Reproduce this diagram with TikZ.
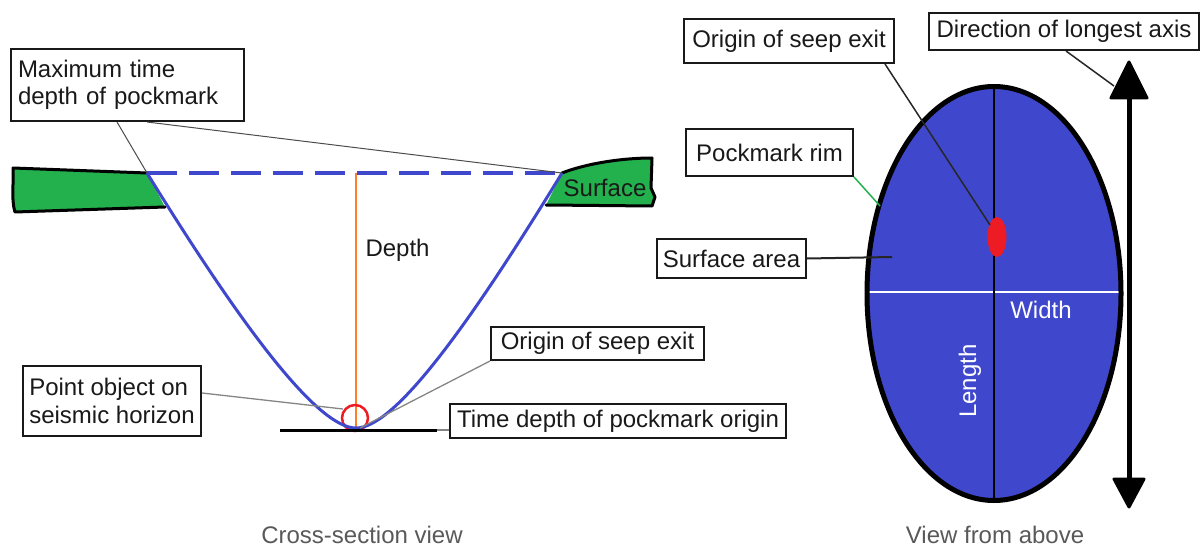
\documentclass[tikz,border=0pt]{standalone}
\usepackage{fontspec}
\setmainfont{Liberation Sans}
\usetikzlibrary{calc}
\definecolor{pmblue}{HTML}{3F48CC}
\definecolor{pmgreen}{HTML}{22B14C}
\definecolor{pmred}{HTML}{ED1C24}
\definecolor{pmorange}{HTML}{FF7F27}
\definecolor{leadgray}{HTML}{858585}
\definecolor{captiongray}{HTML}{595959}
\begin{document}
\begin{tikzpicture}[x=1pt,y=-1pt,
  every node/.style={font=\fontsize{24}{27.5}\selectfont, text=black!90},
  lbox/.style={draw=black!90, line width=2pt, fill=white, anchor=north west,
               inner xsep=4pt, inner ysep=0pt, align=left},
  caption/.style={text=captiongray, inner sep=0pt},
  leadgrey/.style={draw=leadgray, line width=1.3pt},
  leadblack/.style={draw=black!85, line width=1.5pt},
  edge/.style={draw=black, line width=3pt, line join=round, line cap=round}]
\useasboundingbox (0,0) rectangle (1201,548);

% ---------- cross-section ----------
\coordinate (rimL) at (147,173);
\coordinate (rimR) at (562,173);
\coordinate (pbot) at (356,428);
\coordinate (dtop) at (356,173);
\coordinate (hzL) at (280,430);
\coordinate (hzR) at (437,430);

% seabed surface on both sides
\fill[pmgreen] (13,168) -- (rimL) -- (165,207) -- (13,212) -- cycle;
\draw[edge] (165,207) -- (15,212) .. controls (11,200) and (14,180) .. (13,168) -- (rimL);
\fill[pmgreen] (rimR) .. controls (585,164) and (620,158) .. (652,158)
  -- (651,188) -- (655,197) -- (652,206) -- (546,205) -- cycle;
\draw[edge] (rimR) .. controls (585,164) and (620,158) .. (652,158)
  -- (651,188) -- (655,197) -- (652,206) -- (546,205);
\node (surf) at (605,188) {Surface};

% rim level, depth and pockmark profile
\draw[pmblue, line width=3.5pt, dash pattern=on 30pt off 12pt] (rimL) -- (rimR);
\draw[pmorange, line width=2pt] (dtop) -- (pbot);
\node[anchor=west] (depth) at (362,250) {Depth};
\draw[pmred, line width=2.5pt] (355,418) circle[radius=13];
\draw[pmblue, line width=3pt] (rimL) .. controls (250,340) and (320,428) .. (pbot)
  .. controls (392,428) and (460,340) .. (rimR);
\draw[black, line width=3pt] (hzL) -- (hzR);

% labels of the cross-section
\node[lbox, inner xsep=7pt, text width=219pt, minimum height=72pt] (maxbox) at (10,48)
  {Maximum time\\depth of pockmark};
\node[lbox, minimum width=178pt, minimum height=70pt] (pointbox) at (22,365)
  {Point object on\\seismic horizon};
\node[lbox, minimum width=213pt, minimum height=33pt] (seepL) at (490,326)
  {Origin of seep exit};
\node[lbox, minimum width=336pt, minimum height=34pt] (timebox) at (449,403)
  {Time depth of pockmark origin};

\draw[leadgrey, draw=black!70, line width=1pt] ([xshift=107pt]maxbox.south west) -- (rimL);
\draw[leadgrey, draw=black!70, line width=1pt] ([xshift=137pt]maxbox.south west) -- (rimR);
\draw[leadgrey] ([yshift=-28pt]pointbox.north east) -- (343,409);
\draw[leadgrey] (seepL.south west) -- (360,428);
\draw[leadgrey] ([yshift=9pt]timebox.south west) -- (hzR);

\node[caption] (cap1) at (362,535) {Cross-section view};

% ---------- plan view ----------
\coordinate (ec) at (994,293.5);
\fill[pmblue] (ec) ellipse[x radius=127, y radius=207];
\draw[white, line width=2pt] (867,292) -- (1121,292);
\draw[black, line width=2pt] (994,86) -- (994,501);
\fill[pmred] (997,237) ellipse[x radius=9.5, y radius=20];
\draw[black, line width=5pt] (ec) ellipse[x radius=127, y radius=207];
\node[text=white] (width) at (1041,310) {Width};
\node[text=white, rotate=90] (length) at (970,381) {Length};

% direction of the longest axis
\coordinate (atop) at (1129,62);
\coordinate (abot) at (1129,507);
\draw[black, line width=5pt] (1129,98) -- (1129,480);
\filldraw[black, line width=3pt, line join=round] (atop) -- (1111,98) -- (1147,98) -- cycle;
\filldraw[black, line width=3pt, line join=round] (1114,479) -- (1144,479) -- (abot) -- cycle;

% labels of the plan view
\node[lbox, minimum width=210pt, minimum height=44pt] (seepR) at (683,18)
  {Origin of seep exit};
\node[lbox, minimum width=270pt, minimum height=37pt] (dirbox) at (928,12)
  {Direction of longest axis};
\node[lbox, minimum width=167pt, minimum height=47pt] (rimbox) at (685,128)
  {Pockmark rim};
\node[lbox, minimum width=149pt, minimum height=39pt] (areabox) at (656,238)
  {Surface area};

\draw[leadblack] ([xshift=-10pt]seepR.south east) -- (990,225);
\draw[leadblack] ([xshift=138pt]dirbox.south west) -- (1114,86);
\draw[leadblack, draw=pmgreen] (rimbox.south east) -- (880,206);
\draw[leadblack, line width=2pt] (areabox.east) -- (892,257);

\node[caption] (cap2) at (995,535) {View from above};
\end{tikzpicture}
\end{document}
